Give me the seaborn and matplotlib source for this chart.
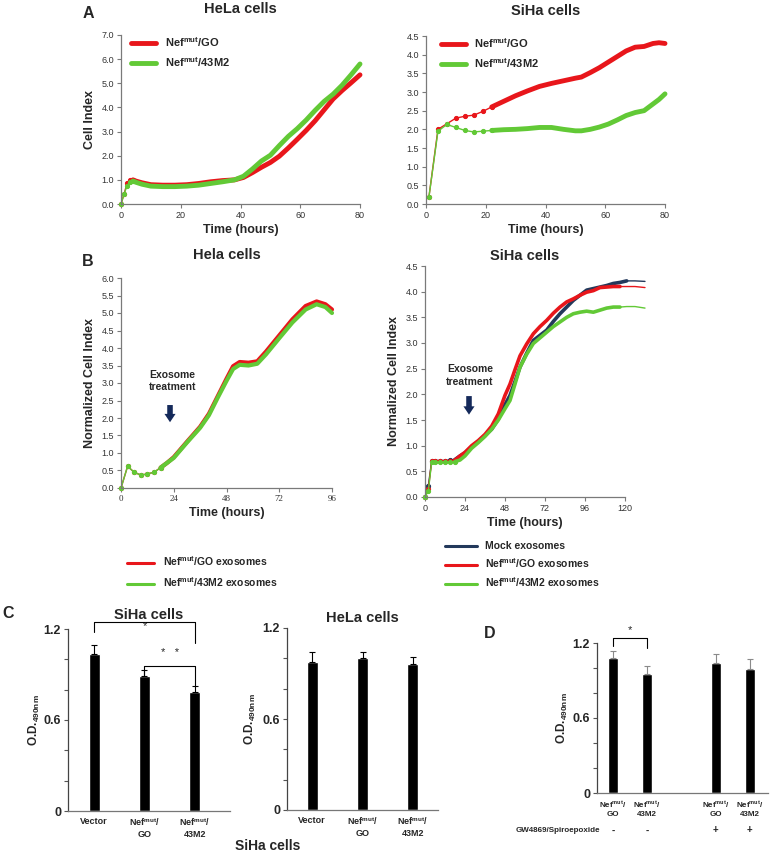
import numpy as np
import pandas as pd
import matplotlib
matplotlib.use("Agg")
import matplotlib.pyplot as plt
from matplotlib.lines import Line2D
import seaborn as sns

# DATA

# A - HeLa cells (cell index vs time)
hela_a_t = [0, 1, 2, 3, 4, 5, 7, 10, 14, 18, 22, 26, 30, 34, 38, 41, 44, 47, 50,
            53, 56, 59, 62, 65, 68, 71, 74, 77, 80]
hela_a_go = [0, 0.4, 0.85, 1.0, 1.0, 0.95, 0.88, 0.8, 0.78, 0.78, 0.8, 0.85, 0.92,
             0.97, 1.0, 1.1, 1.3, 1.52, 1.72, 1.98, 2.32, 2.68, 3.05, 3.45, 3.9,
             4.35, 4.7, 5.02, 5.35]
hela_a_43m2 = [0, 0.4, 0.75, 0.92, 0.95, 0.9, 0.82, 0.74, 0.72, 0.72, 0.74, 0.78,
               0.85, 0.92, 1.0, 1.15, 1.45, 1.78, 2.02, 2.42, 2.8, 3.12, 3.48,
               3.88, 4.25, 4.55, 4.92, 5.35, 5.8]

# A - SiHa cells
siha_a_t = [1, 4, 7, 10, 13, 16, 19, 22, 26, 30, 34, 38, 42, 46, 50, 52, 55, 58,
            61, 64, 67, 70, 73, 76, 78, 80]
siha_a_go = [0.2, 2.0, 2.15, 2.3, 2.35, 2.38, 2.48, 2.6, 2.75, 2.9, 3.03, 3.15,
             3.23, 3.3, 3.37, 3.4, 3.52, 3.65, 3.8, 3.95, 4.1, 4.2, 4.22, 4.3,
             4.32, 4.3]
siha_a_43m2 = [0.2, 1.95, 2.13, 2.05, 1.97, 1.93, 1.95, 1.97, 1.99, 2.0, 2.02,
               2.05, 2.05, 2.0, 1.96, 1.96, 2.0, 2.06, 2.14, 2.25, 2.37, 2.45,
               2.5, 2.68, 2.8, 2.95]

# B - HeLa cells (normalized cell index)
hela_b_t = [0, 3, 6, 9, 12, 15, 18, 21, 24, 30, 36, 40, 44, 48, 51, 54, 58, 62,
            66, 72, 78, 84, 89, 93, 96]
hela_b_go = [0, 0.62, 0.45, 0.37, 0.4, 0.45, 0.58, 0.72, 0.88, 1.32, 1.75, 2.12,
             2.62, 3.12, 3.48, 3.6, 3.58, 3.62, 3.9, 4.36, 4.82, 5.2, 5.33, 5.25,
             5.1]
hela_b_43m2 = [0, 0.62, 0.45, 0.37, 0.4, 0.45, 0.58, 0.72, 0.86, 1.3, 1.72, 2.08,
               2.58, 3.06, 3.4, 3.52, 3.5, 3.55, 3.82, 4.28, 4.73, 5.1, 5.25,
               5.17, 5.0]

# B - SiHa cells
siha_b_t = [0, 2, 4, 6, 9, 12, 15, 18, 21, 24, 28, 32, 36, 40, 44, 48, 51, 54,
            57, 61, 65, 69, 73, 77, 81, 85, 89, 93, 97, 101, 105, 109, 113, 117,
            121, 126, 132]
siha_b_mock = [0, 0.22, 0.7, 0.71, 0.71, 0.71, 0.72, 0.73, 0.8, 0.86, 0.98, 1.08,
               1.2, 1.32, 1.52, 1.8, 1.98, 2.25, 2.53, 2.8, 3.05, 3.15, 3.25,
               3.42, 3.57, 3.7, 3.83, 3.93, 4.03, 4.06, 4.09, 4.12, 4.16, 4.18,
               4.21, 4.21, 4.2]
siha_b_go = [0, 0.15, 0.7, 0.7, 0.7, 0.7, 0.7, 0.72, 0.8, 0.87, 1.0, 1.1, 1.22,
             1.38, 1.62, 1.98, 2.2, 2.48, 2.75, 2.98, 3.18, 3.32, 3.44, 3.58, 3.7,
             3.8, 3.86, 3.93, 3.99, 4.02, 4.08, 4.09, 4.1, 4.1, 4.1, 4.1, 4.08]
siha_b_43m2 = [0, 0.12, 0.68, 0.68, 0.68, 0.68, 0.68, 0.69, 0.72, 0.8, 0.95, 1.06,
               1.18, 1.32, 1.5, 1.72, 1.88, 2.2, 2.53, 2.78, 2.99, 3.1, 3.21, 3.32,
               3.41, 3.5, 3.57, 3.6, 3.62, 3.6, 3.64, 3.68, 3.7, 3.7, 3.71, 3.71,
               3.68]

# C - MTT assay
c_groups = ["Vector", "GO", "43M2"]
c_siha_od = [1.035, 0.89, 0.785]
c_siha_err = [0.06, 0.04, 0.04]
c_hela_od = [0.976, 1.0, 0.965]
c_hela_err = [0.065, 0.04, 0.045]

# D - with / without GW4869/Spiroepoxide
d_groups = ["GO-", "43M2-", "gap", "GO+", "43M2+"]
d_bars = ["GO-", "43M2-", "GO+", "43M2+"]
d_od = [1.08, 0.95, 1.04, 0.99]
d_err = [0.06, 0.07, 0.07, 0.08]
d_sign = ["-", "-", "+", "+"]

RED = "#e8161b"
GREEN = "#62c936"
NAVY = "#23395b"
ARROW = "#14295a"

NEF_GO = "Nef$^{mut}$/GO"
NEF_43 = "Nef$^{mut}$/43M2"

# STYLE
sns.set_style("ticks")
plt.rcParams["font.family"] = ["Liberation Sans", "DejaVu Sans"]
plt.rcParams["mathtext.fontset"] = "custom"
plt.rcParams["mathtext.rm"] = "Liberation Sans:bold"
plt.rcParams["mathtext.it"] = "Liberation Sans:bold"
plt.rcParams["mathtext.bf"] = "Liberation Sans:bold"
plt.rcParams["axes.edgecolor"] = "#7a7a7a"
plt.rcParams["axes.linewidth"] = 0.9

W, H = 771, 857
fig = plt.figure(figsize=(W / 100, H / 100), dpi=100)


def px_axes(x0, y0, x1, y1):
    return fig.add_axes([x0 / W, 1 - y1 / H, (x1 - x0) / W, (y1 - y0) / H])


def curve(ax, t, v, color, t_lo, t_hi, lw_thick=3.5):
    t = np.array(t, dtype=float)
    v = np.array(v, dtype=float)
    # sparse early readings: thin line with small markers
    m = t <= t_lo
    sns.lineplot(x=t[m], y=v[m], color=color, lw=1.0, marker="o", ms=3.0,
                 mec=color, ax=ax, clip_on=False)
    # dense readings: thick line
    m = (t >= t_lo) & (t <= t_hi)
    sns.lineplot(x=t[m], y=v[m], color=color, lw=lw_thick, ax=ax,
                 clip_on=False)
    # thin tail
    m = t >= t_hi
    if m.sum() > 1:
        sns.lineplot(x=t[m], y=v[m], color=color, lw=1.0, ax=ax, clip_on=False)


def style_line_axes(ax):
    sns.despine(ax=ax)
    ax.tick_params(labelsize=6.5, length=3, width=0.8, color="#7a7a7a",
                   labelcolor="#333333", pad=2)
    ax.set_xlabel("Time (hours)", fontsize=9, fontweight="bold", labelpad=3)


# PANEL A - HeLa
ax = px_axes(121, 35, 360, 204)
curve(ax, hela_a_t, hela_a_go, RED, 4, 80)
curve(ax, hela_a_t, hela_a_43m2, GREEN, 4, 80)
ax.set_xlim(0, 80)
ax.set_ylim(0, 7)
ax.set_xticks([0, 20, 40, 60, 80])
ax.set_yticks(np.arange(0, 7.1, 1.0))
ax.set_yticklabels([f"{v:.1f}" for v in np.arange(0, 7.1, 1.0)])
style_line_axes(ax)
ax.set_ylabel("Cell Index", fontsize=9, fontweight="bold", labelpad=4)
ax.legend(handles=[Line2D([], [], color=RED, lw=3.5),
                   Line2D([], [], color=GREEN, lw=3.5)],
          labels=[NEF_GO, NEF_43], loc="upper left", frameon=False,
          prop={"size": 8, "weight": "bold"}, handlelength=2.2,
          borderaxespad=0.1, bbox_to_anchor=(0.02, 1.03), labelspacing=0.5)
ax.set_title("HeLa cells", fontsize=10.5, fontweight="bold", pad=15.5)

# PANEL A - SiHa
ax = px_axes(426, 36, 665, 204)
curve(ax, siha_a_t, siha_a_go, RED, 22, 80)
curve(ax, siha_a_t, siha_a_43m2, GREEN, 22, 80)
ax.set_xlim(0, 80)
ax.set_ylim(0, 4.5)
ax.set_xticks([0, 20, 40, 60, 80])
ax.set_yticks(np.arange(0, 4.51, 0.5))
ax.set_yticklabels([f"{v:.1f}" for v in np.arange(0, 4.51, 0.5)])
style_line_axes(ax)
ax.set_ylabel("")
ax.legend(handles=[Line2D([], [], color=RED, lw=3.5),
                   Line2D([], [], color=GREEN, lw=3.5)],
          labels=[NEF_GO, NEF_43], loc="upper left", frameon=False,
          prop={"size": 8, "weight": "bold"}, handlelength=2.2,
          borderaxespad=0.1, bbox_to_anchor=(0.04, 1.03), labelspacing=0.5)
ax.set_title("SiHa cells", fontsize=10.5, fontweight="bold", pad=15)

# PANEL B - HeLa
ax = px_axes(121, 278, 332, 488)
curve(ax, hela_b_t, hela_b_go, RED, 18, 96, 3.0)
curve(ax, hela_b_t, hela_b_43m2, GREEN, 18, 96, 3.0)
ax.set_xlim(0, 96)
ax.set_ylim(0, 6)
ax.set_xticks([0, 24, 48, 72, 96])
ax.set_yticks(np.arange(0, 6.01, 0.5))
ax.set_yticklabels([f"{v:.1f}" for v in np.arange(0, 6.01, 0.5)])
style_line_axes(ax)
for lab in ax.get_xticklabels():
    lab.set_family("Liberation Serif")
ax.set_ylabel("Normalized Cell Index", fontsize=9, fontweight="bold", labelpad=4)
ax.set_title("Hela cells", fontsize=10.5, fontweight="bold", pad=14)
ax.annotate("", xy=(22.3, 1.8), xytext=(22.3, 2.45),
            arrowprops=dict(arrowstyle="simple,head_width=0.8,head_length=0.6,tail_width=0.4",
                            color=ARROW, lw=0))
ax.text(23.5, 3.06, "Exosome\ntreatment", ha="center", va="center",
        fontsize=7.5, fontweight="bold", linespacing=1.3)

# PANEL B - SiHa
ax = px_axes(425, 266, 625, 497)
curve(ax, siha_b_t, siha_b_mock, NAVY, 18, 121, 2.6)
curve(ax, siha_b_t, siha_b_go, RED, 18, 117, 2.6)
curve(ax, siha_b_t, siha_b_43m2, GREEN, 18, 117, 2.6)
ax.set_xlim(0, 120)
ax.set_ylim(0, 4.5)
ax.set_xticks([0, 24, 48, 72, 96, 120])
ax.set_yticks(np.arange(0, 4.51, 0.5))
ax.set_yticklabels([f"{v:.1f}" for v in np.arange(0, 4.51, 0.5)])
style_line_axes(ax)
ax.set_ylabel("Normalized Cell Index", fontsize=9, fontweight="bold", labelpad=4)
ax.set_title("SiHa cells", fontsize=10.5, fontweight="bold", pad=4)
ax.annotate("", xy=(26.4, 1.55), xytext=(26.4, 2.02),
            arrowprops=dict(arrowstyle="simple,head_width=0.8,head_length=0.6,tail_width=0.4",
                            color=ARROW, lw=0))
ax.text(27, 2.37, "Exosome\ntreatment", ha="center", va="center",
        fontsize=7.5, fontweight="bold", linespacing=1.3)

# LEGENDS B
fig.legend(handles=[Line2D([], [], color=RED, lw=2.2),
                    Line2D([], [], color=GREEN, lw=2.2)],
           labels=[NEF_GO + " exosomes", NEF_43 + " exosomes"],
           loc="upper left", bbox_to_anchor=(118 / W, 1 - 545 / H),
           frameon=False, prop={"size": 7.5, "weight": "bold"},
           handlelength=2.6, labelspacing=0.7)
fig.legend(handles=[Line2D([], [], color=NAVY, lw=2.2),
                    Line2D([], [], color=RED, lw=2.2),
                    Line2D([], [], color=GREEN, lw=2.2)],
           labels=["Mock exosomes", NEF_GO + " exosomes", NEF_43 + " exosomes"],
           loc="upper left", bbox_to_anchor=(436 / W, 1 - 532 / H),
           frameon=False, prop={"size": 7.5, "weight": "bold"},
           handlelength=3.0, labelspacing=0.5)


# BAR CHARTS
def bar_axes(ax, groups, order, vals, errs, width, ecolor):
    df = pd.DataFrame({"group": groups, "od": vals})
    sns.barplot(data=df, x="group", y="od", order=order, color="black",
                width=width, ax=ax, saturation=1)
    pos = [order.index(g) for g in groups]
    ax.errorbar(pos, vals, yerr=[[0] * len(vals), errs], fmt="none",
                ecolor=ecolor, elinewidth=0.8, capsize=2, capthick=0.8)
    ax.set_ylim(0, 1.2)
    ax.set_yticks([0, 0.6, 1.2])
    ax.set_yticklabels(["0", "0.6", "1.2"], fontsize=9, fontweight="bold")
    ax.set_yticks([0.2, 0.4, 0.8, 1.0], minor=True)
    ax.tick_params(axis="y", which="both", length=3, width=0.8, color="#555555",
                   pad=2)
    ax.tick_params(axis="x", length=0, pad=4)
    ax.set_xlabel("")
    ax.set_ylabel("O.D.$_{490nm}$", fontsize=8.5, fontweight="bold")
    ax.spines["left"].set_color("#444444")
    ax.spines["bottom"].set_color("#777777")
    sns.despine(ax=ax)


def bracket(ax, x0, x1, y, d0, d1, star, star_y):
    ax.plot([x0, x0, x1, x1], [y - d0, y, y, y - d1], color="black", lw=0.8,
            clip_on=False)
    ax.text((x0 + x1) / 2, star_y, star, ha="center", va="center", fontsize=8,
            clip_on=False)


c_labels = ["Vector", "Nef$^{mut}$/\nGO", "Nef$^{mut}$/\n43M2"]

# C - SiHa
ax = px_axes(68, 629, 230, 811)
bar_axes(ax, c_groups, c_groups, c_siha_od, c_siha_err, 0.22, "black")
ax.set_xlim(-0.52, 2.7)
ax.set_xticks([0, 1, 2])
ax.set_xticklabels(c_labels, fontsize=6.5, fontweight="bold", va="top")
ax.set_title("SiHa cells", fontsize=10.5, fontweight="bold", pad=7)
bracket(ax, 0, 2, 1.245, 0.066, 0.14, "*", 1.22)
bracket(ax, 1, 2, 0.955, 0.066, 0.13, "*   *", 1.04)
ax.yaxis.set_label_coords(-0.16, 0.5)

# C - HeLa
ax = px_axes(287, 628, 438, 810)
bar_axes(ax, c_groups, c_groups, c_hela_od, c_hela_err, 0.22, "black")
ax.set_xlim(-0.5, 2.5)
ax.set_xticks([0, 1, 2])
ax.set_xticklabels(c_labels, fontsize=6.5, fontweight="bold", va="top")
ax.set_title("HeLa cells", fontsize=10.5, fontweight="bold", pad=4)
ax.yaxis.set_label_coords(-0.19, 0.5)

fig.text(268 / W, 1 - 846 / H, "SiHa cells", ha="center", va="center",
         fontsize=10, fontweight="bold")

# D
ax = px_axes(597, 643, 768, 793)
bar_axes(ax, d_bars, d_groups, d_od, d_err, 0.3, "#8a8a8a")
ax.set_xlim(-0.47, 4.53)
ax.set_xticks([0, 1, 3, 4])
ax.set_xticklabels([c_labels[1], c_labels[2], c_labels[1], c_labels[2]],
                   fontsize=5.8, fontweight="bold", va="top")
ax.tick_params(axis="x", pad=5)
ax.yaxis.set_label_coords(-0.155, 0.5)
bracket(ax, 0, 1, 1.24, 0.065, 0.08, "*", 1.3)
for xpos, s in zip([0, 1, 3, 4], d_sign):
    ax.text(xpos, -0.3, s, ha="center", va="center", fontsize=7,
            fontweight="bold", clip_on=False)
fig.text(558 / W, 1 - 831 / H, "GW4869/Spiroepoxide", ha="center",
         va="center", fontsize=5.8, fontweight="bold")

# PANEL LETTERS
for lx, ly, letter in [(88, 13, "A"), (88, 262, "B"), (8, 614, "C"),
                       (490, 634, "D")]:
    fig.text(lx / W, 1 - ly / H, letter, ha="center", va="center",
             fontsize=11.5, fontweight="bold")

fig.savefig("out.png", dpi=100)
